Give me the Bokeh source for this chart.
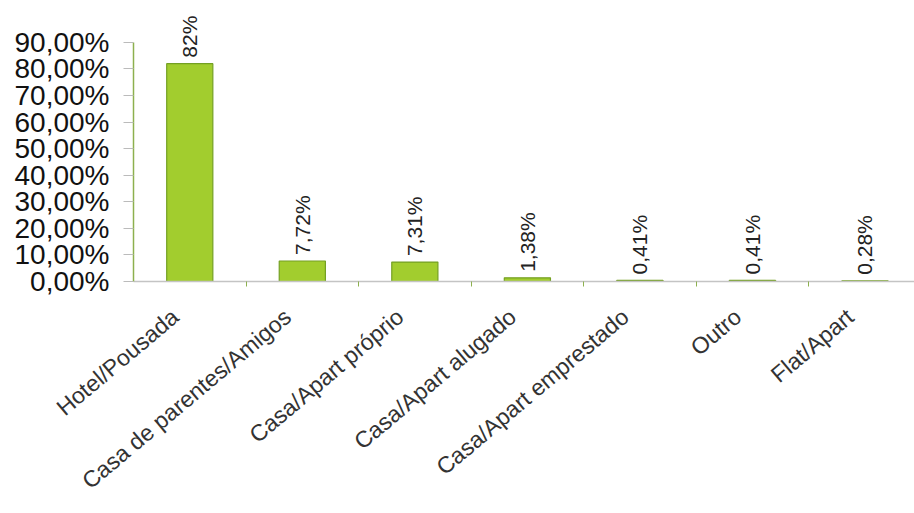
import math
from bokeh.plotting import figure
from bokeh.models import ColumnDataSource, FixedTicker, Range1d
from bokeh.embed import file_html
from bokeh.resources import INLINE

categories = ["Hotel/Pousada", "Casa de parentes/Amigos", "Casa/Apart próprio",
              "Casa/Apart alugado", "Casa/Apart emprestado", "Outro", "Flat/Apart"]
values = [82.0, 7.72, 7.31, 1.38, 0.41, 0.41, 0.28]
value_labels = ["82%", "7,72%", "7,31%", "1,38%", "0,41%", "0,41%", "0,28%"]
y_ticks = [0, 10, 20, 30, 40, 50, 60, 70, 80, 90]
y_tick_labels = ["0,00%", "10,00%", "20,00%", "30,00%", "40,00%", "50,00%",
                 "60,00%", "70,00%", "80,00%", "90,00%"]

xs = list(range(len(categories)))
src = ColumnDataSource(dict(x=xs, v=values, lab=value_labels))

p = figure(width=914, height=513, output_backend="svg", toolbar_location=None,
           x_range=Range1d(-0.5, 6.44), y_range=Range1d(0, 102),
           min_border_left=133, min_border_right=0, min_border_top=10,
           min_border_bottom=232)
p.outline_line_color = None
p.xgrid.visible = False
p.ygrid.visible = False
p.background_fill_color = "white"

p.vbar(x="x", top="v", width=0.41, source=src, fill_color="#A2CD2E",
       line_color="#74A023", line_width=1.2)

p.text(x="x", y="v", text="lab", source=src, angle=math.pi / 2,
       text_align="left", text_baseline="middle", y_offset=-6,
       text_font_size="21px", text_color="#222222",
       text_font={"value": "Liberation Sans"})

# y axis
ya = p.yaxis[0]
ya.ticker = FixedTicker(ticks=y_ticks)
ya.major_label_overrides = {t: l for t, l in zip(y_ticks, y_tick_labels)}
ya.bounds = (0, 90)
ya.axis_line_color = "#8DB04E"
ya.axis_line_width = 1.5
ya.major_tick_line_color = "#BBBBBB"
ya.major_tick_out = 10
ya.major_tick_in = 0
ya.minor_tick_line_color = None
ya.major_label_text_font = "Liberation Sans"
ya.major_label_text_font_size = "28px"
ya.major_label_text_color = "#111111"
ya.major_label_standoff = 14

# x axis: labels anchored slightly left of each category centre
label_pos = [i - 0.13 for i in xs]
xa = p.xaxis[0]
xa.ticker = FixedTicker(ticks=label_pos, minor_ticks=[i + 0.5 for i in range(6)])
xa.major_label_overrides = {pos: c for pos, c in zip(label_pos, categories)}
xa.major_label_orientation = 0.70
xa.axis_line_color = "#C4C4C4"
xa.axis_line_width = 1.5
xa.major_tick_line_color = None
xa.major_tick_out = 0
xa.major_tick_in = 0
xa.minor_tick_line_color = "#8DB04E"
xa.minor_tick_out = 5
xa.minor_tick_in = 0
xa.major_label_text_font = "Liberation Sans"
xa.major_label_text_font_size = "23px"
xa.major_label_text_color = "#333333"
xa.major_label_standoff = 27

open("out.html", "w").write(file_html(p, INLINE))
